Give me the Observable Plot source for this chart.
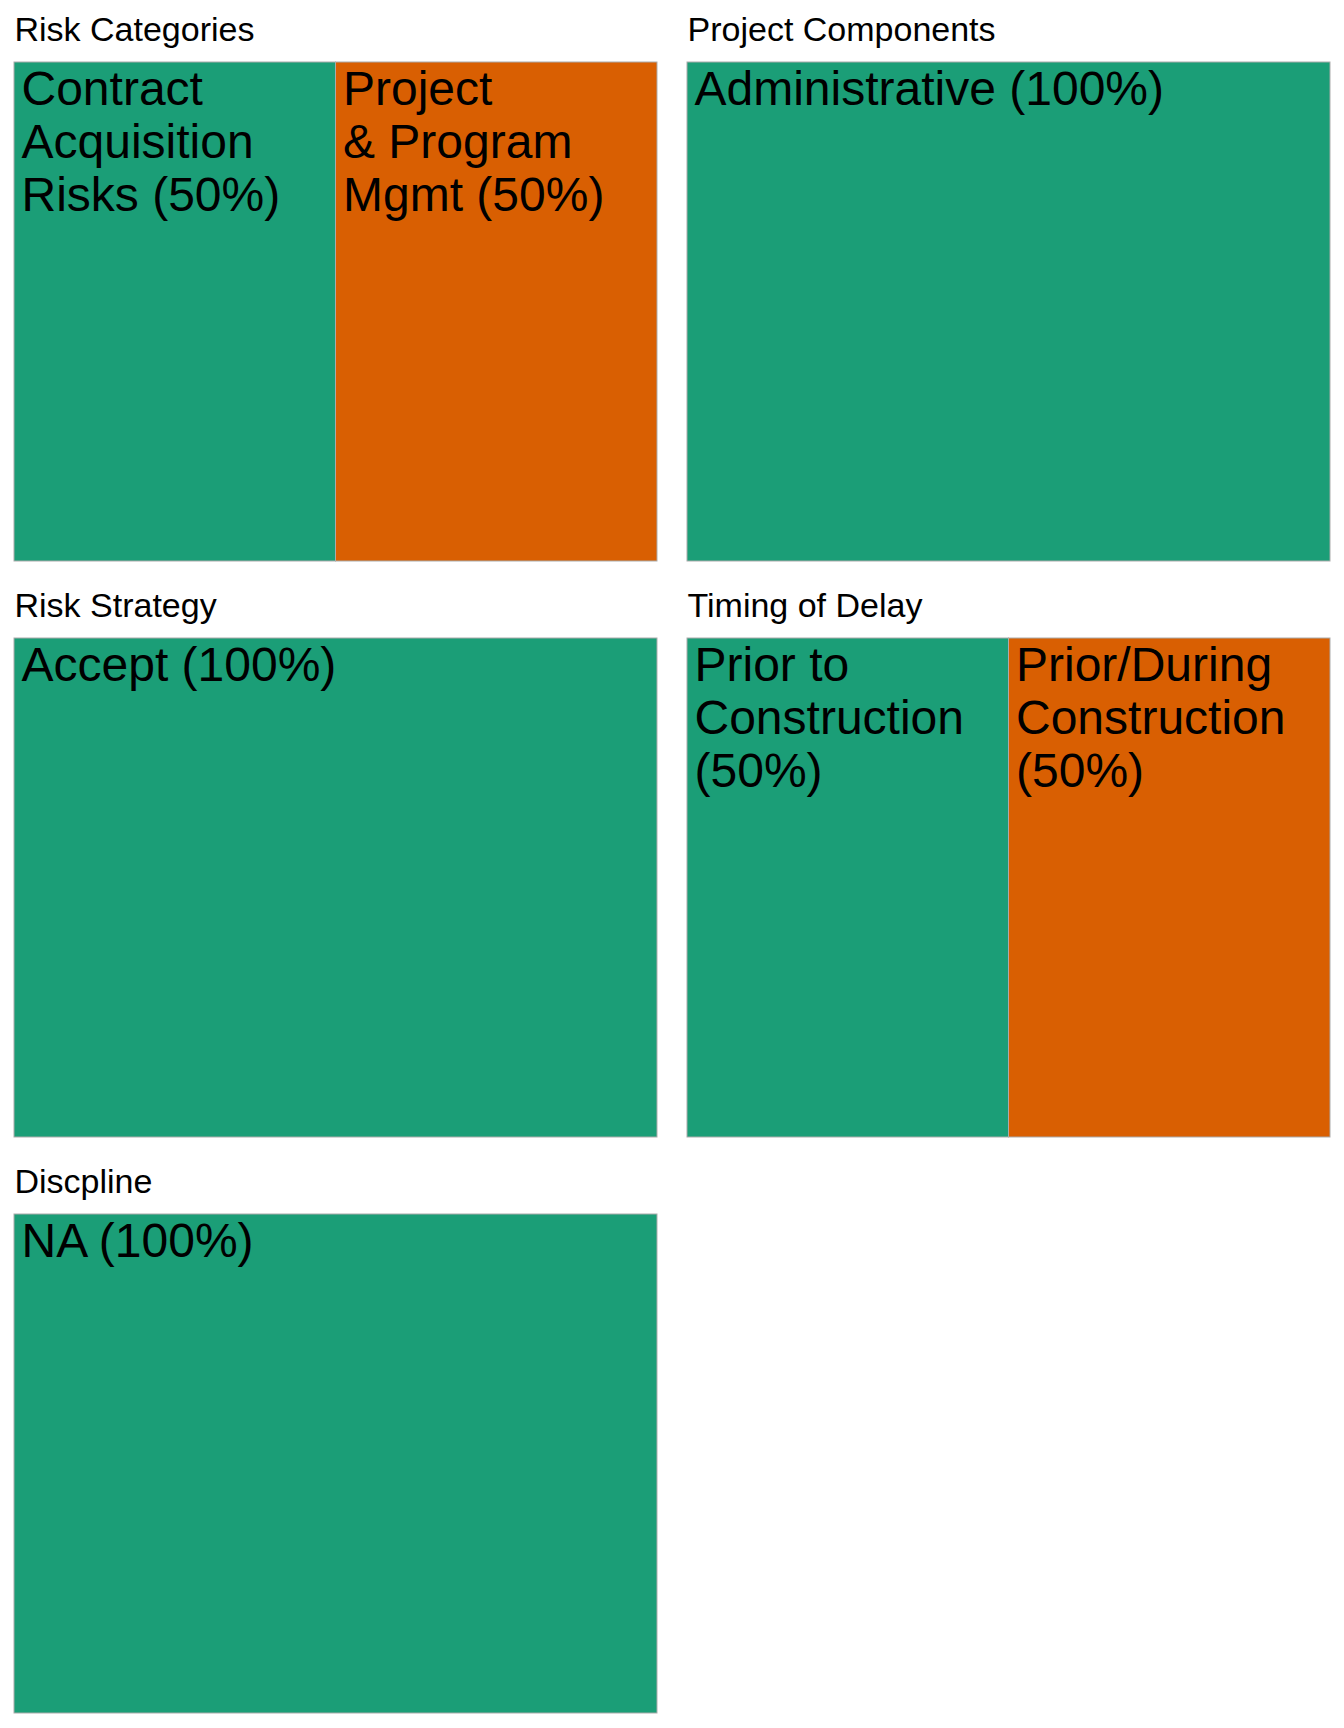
<!DOCTYPE html>
<html><head><meta charset="utf-8">
<script src="https://cdn.jsdelivr.net/npm/d3@7"></script>
<script src="https://cdn.jsdelivr.net/npm/@observablehq/plot@0.6"></script>
<style>html,body{margin:0;padding:0;background:#fff}</style>
</head><body><div id="chart"></div>
<script>
// Panels (groups) and their grid position
const groups = ["Risk Categories", "Project Components", "Risk Strategy", "Timing of Delay", "Discpline"];
const groupCol = [0, 1, 0, 1, 0];
const groupRow = [0, 0, 1, 1, 2];

// Categories: which group each belongs to, its count, and its label text (with the line breaks seen in the picture)
const categories = ["Contract Acquisition Risks", "Project & Program Mgmt", "Administrative", "Accept", "Prior to Construction", "Prior/During Construction", "NA"];
const categoryGroup = [0, 0, 1, 2, 3, 3, 4];
const values = [1, 1, 1, 1, 1, 1, 1];
const labelText = ["Contract\nAcquisition\nRisks ", "Project\n& Program\nMgmt ", "Administrative ", "Accept ", "Prior to\nConstruction\n", "Prior/During\nConstruction\n", "NA "];

const palette = ["#1b9e77", "#d95f02"];

// Build treemap layouts per group (unit square)
const cells = [];
const panels = groups.map((name, g) => ({name, col: groupCol[g], row: groupRow[g]}));
groups.forEach((name, g) => {
  const items = categories.map((c, i) => ({name: c, value: values[i], label: labelText[i], g: categoryGroup[i]}))
    .filter(d => d.g === g);
  const root = d3.hierarchy({children: items}).sum(d => d.value || 0);
  d3.treemap().tile(d3.treemapDice).size([1, 1]).padding(0)(root);
  const total = root.value;
  root.leaves().forEach((leaf, idx) => {
    const pct = Math.round(leaf.data.value / total * 100);
    cells.push({
      x0: leaf.x0, x1: leaf.x1, y0: leaf.y0, y1: leaf.y1,
      col: groupCol[g], row: groupRow[g], idx,
      label: leaf.data.label + "(" + pct + "%)"
    });
  });
});

const chart = Plot.plot({
  width: 1344, height: 1728,
  marginLeft: 14, marginRight: 14, marginTop: 62, marginBottom: 15,
  style: {fontFamily: "'Liberation Sans', Arial, sans-serif", background: "#fff", color: "black"},
  x: {domain: [0, 1], axis: null},
  y: {domain: [0, 1], reverse: true, axis: null},
  fx: {domain: [0, 1], axis: null, paddingInner: 0.0446, paddingOuter: 0, round: false},
  fy: {domain: [0, 1, 2], axis: null, paddingInner: 0.1337, paddingOuter: 0, round: false},
  color: {type: "ordinal", domain: [0, 1], range: palette},
  marks: [
    Plot.rect(cells, {x1: "x0", x2: "x1", y1: "y0", y2: "y1", fx: "col", fy: "row", fill: "idx", stroke: "#ababab", strokeWidth: 1}),
    Plot.text(cells, {x: "x0", y: "y0", fx: "col", fy: "row", text: "label", textAnchor: "start", lineAnchor: "top", dx: 7, dy: 5, fontSize: 48, lineHeight: 1.1, fill: "black"}),
    Plot.text(panels, {fx: "col", fy: "row", frameAnchor: "top-left", text: "name", textAnchor: "start", lineAnchor: "bottom", dy: -22, fontSize: 34, fill: "black"})
  ]
});
document.getElementById("chart").appendChild(chart);
</script>
</body></html>
